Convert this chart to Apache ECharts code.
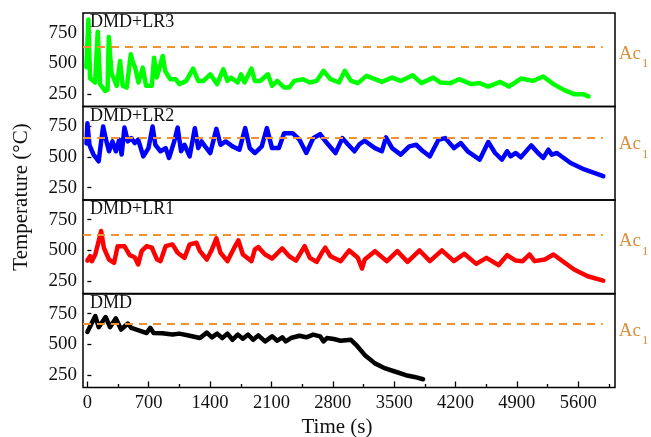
<!DOCTYPE html>
<html><head><meta charset="utf-8">
<script src="https://cdn.jsdelivr.net/npm/echarts@6/dist/echarts.min.js"></script>
<style>html,body{margin:0;padding:0;background:#fff}#c{width:651px;height:437px}</style>
</head><body><div id="c"></div>
<script>
const panelNames = ['DMD+LR3', 'DMD+LR2', 'DMD+LR1', 'DMD'];
const panelColors = ['#00FF00', '#0000FF', '#FF0000', '#000000'];
const ac1Values = [635, 660, 630, 667];
const ac1LineEnd = 5880;
const xTickValues = [0, 700, 1400, 2100, 2800, 3500, 4200, 4900, 5600];
const xMinorTickValues = [350, 1050, 1750, 2450, 3150, 3850, 4550, 5250, 5950];
const yTickValues = [250, 500, 750];

const lr3Data = [[-12,470],[12,858],[30,380],[50,372],[88,345],[118,758],[145,331],[202,277],[230,285],[244,715],[275,420],[297,386],[335,318],[373,520],[403,318],[449,304],[495,574],[520,507],[545,466],[583,345],[632,466],[670,318],[735,318],[761,547],[792,386],[860,561],[887,440],[944,372],[1010,372],[1050,332],[1128,358],[1206,458],[1265,358],[1324,358],[1402,412],[1480,332],[1551,453],[1598,358],[1637,385],[1715,345],[1754,412],[1793,345],[1872,458],[1911,358],[1970,358],[2060,412],[2107,318],[2166,358],[2244,305],[2303,305],[2361,358],[2459,372],[2538,345],[2616,358],[2694,440],[2773,372],[2871,345],[2937,440],[3007,358],[3086,340],[3184,399],[3282,372],[3360,350],[3477,385],[3575,358],[3712,404],[3810,340],[3947,385],[4026,345],[4143,340],[4241,372],[4378,332],[4476,340],[4574,312],[4711,350],[4809,312],[4946,377],[5083,358],[5201,394],[5318,332],[5436,285],[5553,250],[5651,250],[5718,232]];

const lr2Data = [[-10,610],[0,774],[23,599],[70,519],[129,465],[157,626],[180,747],[208,653],[247,546],[286,626],[325,546],[364,640],[391,519],[423,739],[462,626],[501,653],[540,613],[580,640],[638,505],[697,572],[744,747],[775,599],[834,546],[893,572],[932,492],[991,626],[1030,739],[1069,546],[1108,599],[1167,505],[1226,734],[1265,572],[1304,626],[1343,586],[1402,532],[1472,728],[1519,599],[1578,626],[1656,586],[1735,559],[1801,734],[1852,572],[1911,532],[1990,586],[2048,734],[2107,572],[2185,572],[2244,693],[2342,693],[2420,640],[2498,532],[2577,653],[2655,685],[2733,613],[2831,532],[2910,653],[2969,605],[3047,546],[3106,605],[3164,632],[3281,572],[3360,546],[3407,659],[3477,572],[3575,519],[3673,586],[3751,599],[3830,546],[3908,505],[4006,640],[4084,653],[4182,572],[4260,613],[4339,546],[4476,478],[4574,621],[4652,532],[4730,478],[4789,546],[4828,505],[4887,532],[4946,497],[5064,594],[5142,532],[5201,492],[5260,559],[5299,519],[5357,532],[5514,451],[5670,398],[5886,344]];

const lr1Data = [[0,418],[31,453],[51,413],[90,467],[129,576],[157,658],[188,522],[247,426],[305,399],[345,535],[423,535],[482,462],[540,445],[580,386],[619,494],[677,535],[736,522],[795,426],[834,413],[893,535],[971,549],[1030,481],[1108,440],[1167,549],[1245,562],[1284,494],[1363,426],[1421,508],[1472,598],[1519,481],[1598,413],[1676,522],[1723,581],[1774,467],[1872,413],[1911,508],[1950,527],[2028,467],[2107,434],[2224,516],[2303,453],[2381,418],[2479,535],[2538,440],[2616,407],[2675,481],[2714,522],[2773,453],[2890,413],[2988,500],[3086,440],[3133,353],[3164,426],[3281,494],[3418,413],[3536,494],[3653,407],[3790,500],[3908,413],[4045,500],[4182,413],[4300,473],[4437,391],[4554,440],[4691,380],[4789,462],[4887,418],[4966,413],[5044,467],[5103,413],[5220,426],[5318,467],[5396,426],[5553,345],[5709,290],[5886,255]];

const dmdData = [[0,602],[90,731],[129,640],[208,723],[258,640],[325,712],[384,621],[462,670],[501,635],[619,607],[677,593],[717,635],[756,593],[854,591],[971,580],[1050,588],[1167,571],[1284,552],[1363,596],[1421,558],[1480,588],[1539,552],[1598,588],[1656,538],[1715,580],[1774,547],[1833,580],[1891,538],[1950,574],[2028,525],[2107,566],[2166,530],[2224,558],[2263,525],[2322,552],[2420,571],[2498,558],[2577,580],[2655,566],[2694,525],[2733,552],[2812,544],[2890,530],[3007,538],[3066,497],[3164,415],[3281,346],[3399,305],[3516,278],[3634,250],[3732,236],[3830,217]];

const seriesData = [lr3Data, lr2Data, lr1Data, dmdData];

const xMin = -50, xMax = 6020, yMin = 150, yMax = 910;
const gridTops = [13, 106.5, 200, 294];
const gridH = 93.5;
const serif = '"Liberation Serif", "Times New Roman", serif';
const acColor = '#F0922F';
const acTextColor = '#D9913F';

const grids = [], xAxes = [], yAxes = [], series = [], graphics = [];
for (let i = 0; i < 4; i++) {
  grids.push({left: 83, right: 36, top: gridTops[i], height: gridH, show: true,
    borderColor: '#000', borderWidth: 1.5, backgroundColor: 'transparent'});
  const isBottom = i === 3;
  xAxes.push({type: 'value', gridIndex: i, min: xMin, max: xMax, position: 'bottom',
    axisLine: {show: false}, splitLine: {show: false},
    axisTick: {show: isBottom, inside: true, length: 6, customValues: xTickValues, lineStyle: {color: '#000', width: 1.3}},
    axisLabel: {show: isBottom, customValues: xTickValues, formatter: v => String(v), margin: 6, fontFamily: serif, fontSize: 18.5, color: '#111'}});
  yAxes.push({type: 'value', gridIndex: i, min: yMin, max: yMax,
    axisLine: {show: false}, splitLine: {show: false},
    axisTick: {show: true, inside: true, length: 4, customValues: yTickValues, lineStyle: {color: '#000', width: 1.3}},
    axisLabel: {customValues: yTickValues, formatter: v => String(v), margin: 6, fontFamily: serif, fontSize: 19, color: '#111'}});
  series.push({type: 'line', xAxisIndex: i, yAxisIndex: i, data: seriesData[i],
    showSymbol: false, symbol: 'none', smooth: false,
    lineStyle: {color: panelColors[i], width: 4.5, cap: 'round', join: 'round'},
    markLine: {silent: true, symbol: ['none', 'none'], animation: false,
      lineStyle: {color: acColor, type: [8, 6], width: 2},
      label: {show: true, position: 'end', distance: 16, formatter: '{a|Ac}{b|1}',
        rich: {
          a: {fontSize: 19, lineHeight: 19, padding: [7, 0, 7, 0], verticalAlign: 'top', fontFamily: serif, color: acTextColor},
          b: {fontSize: 13, lineHeight: 13, padding: [20, 0, 0, 1], verticalAlign: 'top', fontFamily: serif, color: acTextColor}
        }},
      data: [[{coord: [xMin, ac1Values[i]]}, {coord: [ac1LineEnd, ac1Values[i]]}]]
    }});
  graphics.push({type: 'text', x: 90, y: gridTops[i] + 9.5, z: 10,
    style: {text: panelNames[i], font: '18px ' + serif, fill: '#111', align: 'left', verticalAlign: 'middle'}});
}
xAxes.push({type: 'value', gridIndex: 3, min: xMin, max: xMax, position: 'bottom',
  axisLine: {show: false}, splitLine: {show: false}, axisLabel: {show: false},
  axisTick: {show: true, inside: true, length: 3.5, customValues: xMinorTickValues, lineStyle: {color: '#000', width: 1.3}}});

graphics.push({type: 'text', x: 21, y: 197, rotation: Math.PI / 2,
  style: {text: 'Temperature (°C)', font: '21px ' + serif, fill: '#111', align: 'center', verticalAlign: 'middle'}});
graphics.push({type: 'text', x: 337, y: 427,
  style: {text: 'Time (s)', font: '21px ' + serif, fill: '#111', align: 'center', verticalAlign: 'middle'}});

const chart = echarts.init(document.getElementById('c'), null, {renderer: 'canvas'});
chart.setOption({animation: false, backgroundColor: '#fff', grid: grids, xAxis: xAxes, yAxis: yAxes, series: series, graphic: graphics});
</script></body></html>
